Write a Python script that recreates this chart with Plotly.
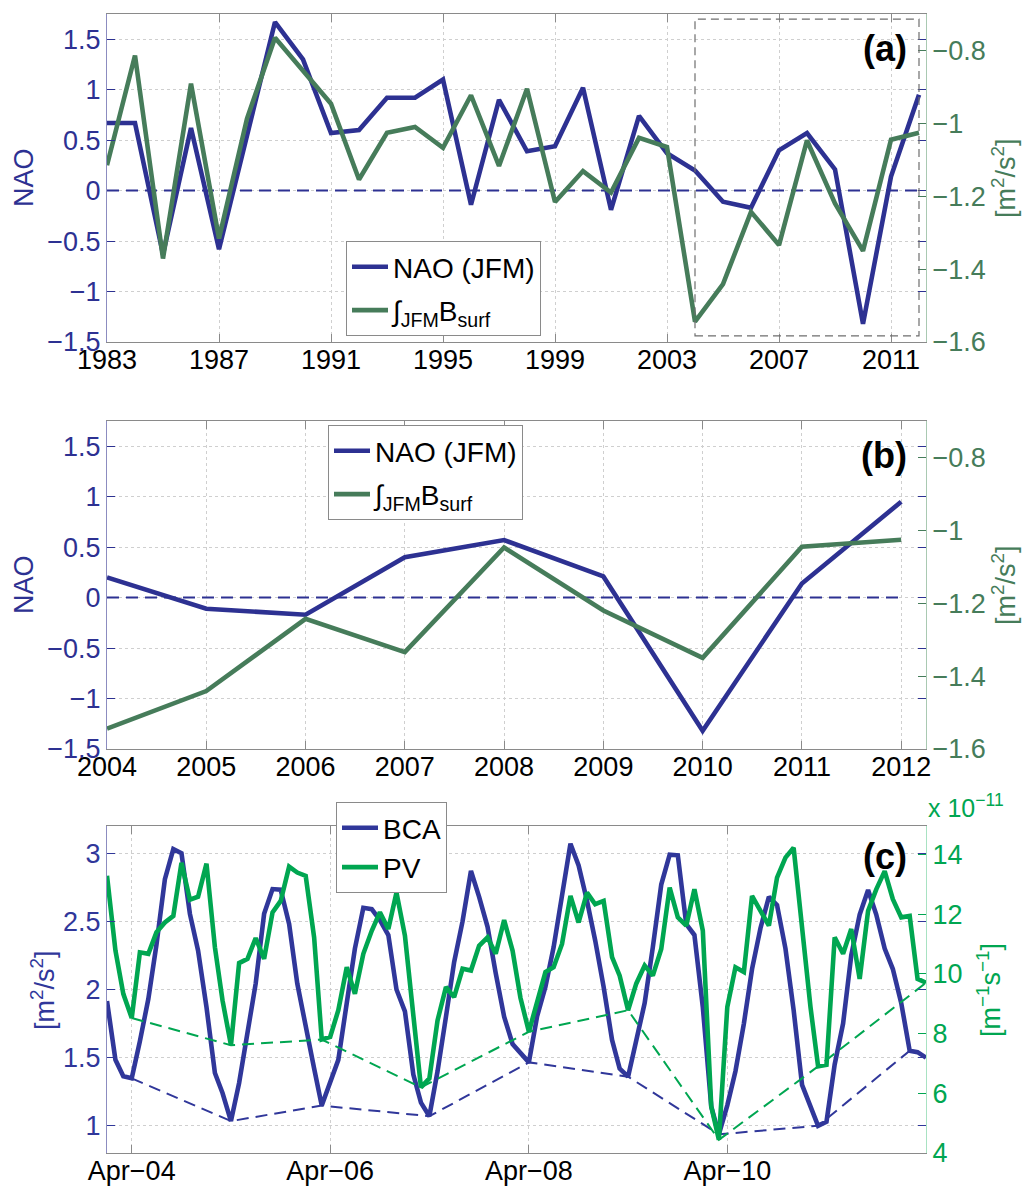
import pandas as pd
import plotly.graph_objects as go

# ---------------- data ----------------
years = list(range(1983, 2013))
nao_jfm = [0.67, 0.67, -0.63, 0.62, -0.58, 0.55, 1.67, 1.30, 0.57, 0.60,
           0.92, 0.92, 1.10, -0.14, 0.90, 0.39, 0.44, 1.02, -0.19, 0.74,
           0.37, 0.20, -0.11, -0.17, 0.40, 0.57, 0.21, -1.32, 0.14, 0.95]
bsurf_jfm = [-1.115, -0.814, -1.371, -0.891, -1.316, -0.987, -0.765, -0.855, -0.946, -1.154,
             -1.026, -1.010, -1.067, -0.923, -1.117, -0.905, -1.216, -1.131, -1.190, -1.040,
             -1.065, -1.544, -1.441, -1.243, -1.334, -1.047, -1.220, -1.350, -1.045, -1.026]
zoom_start_year = 2004

# monthly series, Jan 2004 - Apr 2012
months = pd.date_range("2004-01-01", periods=100, freq="MS")
bca = [1.915, 1.484, 1.363, 1.348, 1.62, 1.93, 2.33, 2.81, 3.03, 3.00,
       2.555, 2.287, 1.87, 1.387, 1.24, 1.034, 1.314, 1.679, 2.044, 2.555,
       2.737, 2.732, 2.482, 2.044, 1.75, 1.42, 1.148, 1.32, 1.484, 1.90,
       2.30, 2.60, 2.59, 2.51, 2.40, 2.00, 1.84, 1.375, 1.17, 1.07,
       1.40, 1.80, 2.20, 2.50, 2.87, 2.68, 2.46, 2.12, 1.80, 1.60,
       1.53, 1.465, 1.80, 2.02, 2.31, 2.70, 3.07, 2.91, 2.65, 2.36,
       2.02, 1.63, 1.42, 1.36, 1.63, 1.90, 2.31, 2.77, 2.99, 2.985,
       2.48, 2.40, 1.87, 1.14, 0.937, 1.15, 1.40, 1.75, 2.15, 2.45,
       2.68, 2.62, 2.30, 1.85, 1.30, 1.15, 1.00, 1.03, 1.45, 1.75,
       2.25, 2.55, 2.73, 2.55, 2.30, 2.15, 1.90, 1.55, 1.54, 1.50]
pv_e11 = [13.28, 10.78, 9.33, 8.52, 10.72, 10.67, 11.39, 11.72, 11.94, 13.72,
          12.48, 12.58, 13.69, 10.89, 9.11, 7.61, 10.36, 10.50, 11.20, 10.50,
          12.06, 12.44, 13.59, 13.39, 13.28, 11.22, 7.80, 7.89, 8.78, 10.22,
          9.33, 10.67, 11.44, 12.06, 11.50, 12.72, 11.28, 8.60, 6.20, 6.50,
          8.44, 9.56, 9.22, 10.17, 10.11, 10.94, 11.22, 10.67, 11.80, 10.78,
          9.20, 8.06, 9.06, 10.06, 10.22, 11.00, 12.61, 11.72, 12.72, 12.33,
          12.44, 10.56, 9.94, 8.78, 9.67, 10.28, 9.94, 10.83, 12.89, 11.89,
          11.61, 12.83, 11.44, 5.56, 4.44, 8.89, 10.22, 10.06, 12.61, 12.11,
          11.61, 13.22, 13.89, 14.22, 11.56, 8.89, 6.90, 6.95, 11.22, 10.67,
          11.50, 9.83, 12.11, 12.83, 13.44, 12.50, 11.89, 11.94, 9.83, 9.70]
# months holding each spring minimum (indices into the monthly series)
bca_min_idx = [3, 15, 26, 39, 51, 63, 74, 86, 97]
pv_min_idx = [3, 15, 26, 38, 51, 63, 74, 86, 99]

nao_ticks = [-1.5, -1, -0.5, 0, 0.5, 1, 1.5]
nao_ticktext = ["\u22121.5", "\u22121", "\u22120.5", "0", "0.5", "1", "1.5"]
b_ticks = [-1.6, -1.4, -1.2, -1.0, -0.8]
b_ticktext = ["\u22121.6", "\u22121.4", "\u22121.2", "\u22121", "\u22120.8"]
year_ticks_a = list(range(1983, 2012, 4))
year_ticks_b = list(range(2004, 2013))
bca_ticks = [1, 1.5, 2, 2.5, 3]
pv_ticks = [4, 6, 8, 10, 12, 14]
date_ticks = ["2004-04-01", "2006-04-01", "2008-04-01", "2010-04-01"]
date_ticktext = ["Apr\u221204", "Apr\u221206", "Apr\u221208", "Apr\u221210"]

# ---------------- styling ----------------
W, H = 1029, 1191
FONT = "Liberation Sans"
TICK_SIZE = 27
NAVY = "#2d3192"
SAGE = "#467c5a"
BCA_BLUE = "#30379a"
PV_GREEN = "#00a651"
GRID = "#cfcfcf"
FRAME = "#8a8a8a"


def fx(px):
    return px / W


def fy(py):
    return 1 - py / H


XDOM = [fx(107), fx(926)]
DOM_A = [fy(342), fy(14)]
DOM_B = [fy(749), fy(421)]
DOM_C = [fy(1153), fy(826)]

fig = go.Figure()
dash_style = "12px,7px"

# ---- panel (a) ----
fig.add_trace(go.Scatter(x=[years[0], years[-1]], y=[0, 0], mode="lines",
                         line=dict(color=NAVY, width=2, dash=dash_style),
                         showlegend=False, xaxis="x", yaxis="y", hoverinfo="skip"))
fig.add_trace(go.Scatter(x=years, y=nao_jfm, mode="lines", name="NAO (JFM)",
                         line=dict(color=NAVY, width=4.6), xaxis="x", yaxis="y",
                         legend="legend", legendgroup="a1"))
fig.add_trace(go.Scatter(x=years, y=bsurf_jfm, mode="lines",
                         name="\u222b<sub>JFM</sub>B<sub>surf</sub>",
                         line=dict(color=SAGE, width=4.6), xaxis="x", yaxis="y2",
                         legend="legend", legendgroup="a2"))

# ---- panel (b) ----
k = years.index(zoom_start_year)
fig.add_trace(go.Scatter(x=[years[k], years[-1]], y=[0, 0], mode="lines",
                         line=dict(color=NAVY, width=2, dash=dash_style),
                         showlegend=False, xaxis="x2", yaxis="y3", hoverinfo="skip"))
fig.add_trace(go.Scatter(x=years[k:], y=nao_jfm[k:], mode="lines", name="NAO (JFM)",
                         line=dict(color=NAVY, width=4.6), xaxis="x2", yaxis="y3",
                         legend="legend2", legendgroup="b1"))
fig.add_trace(go.Scatter(x=years[k:], y=bsurf_jfm[k:], mode="lines",
                         name="\u222b<sub>JFM</sub>B<sub>surf</sub>",
                         line=dict(color=SAGE, width=4.6), xaxis="x2", yaxis="y4",
                         legend="legend2", legendgroup="b2"))

# ---- panel (c) ----
fig.add_trace(go.Scatter(x=[months[i] for i in bca_min_idx], y=[bca[i] for i in bca_min_idx],
                         mode="lines", line=dict(color=BCA_BLUE, width=2, dash=dash_style),
                         showlegend=False, xaxis="x3", yaxis="y5", hoverinfo="skip"))
fig.add_trace(go.Scatter(x=months, y=bca, mode="lines", name="BCA",
                         line=dict(color=BCA_BLUE, width=4.6), xaxis="x3", yaxis="y5",
                         legend="legend3", legendgroup="c1"))
fig.add_trace(go.Scatter(x=[months[i] for i in pv_min_idx], y=[pv_e11[i] for i in pv_min_idx],
                         mode="lines", line=dict(color=PV_GREEN, width=2, dash=dash_style),
                         showlegend=False, xaxis="x3", yaxis="y6", hoverinfo="skip"))
fig.add_trace(go.Scatter(x=months, y=pv_e11, mode="lines", name="PV",
                         line=dict(color=PV_GREEN, width=4.6), xaxis="x3", yaxis="y6",
                         legend="legend3", legendgroup="c2"))


def tfont(color):
    return dict(family=FONT, size=TICK_SIZE, color=color)


def xax(domain, anchor, rng, tickvals, ticktext=None, **kw):
    d = dict(domain=domain, anchor=anchor, range=rng, tickvals=tickvals,
             ticks="inside", ticklen=8, tickcolor=FRAME, showline=True,
             linecolor=FRAME, linewidth=1.2, mirror="ticks", showgrid=True,
             gridcolor=GRID, griddash="dot", gridwidth=1, zeroline=False,
             tickfont=tfont("black"), automargin=False, ticklabelstandoff=-7)
    if ticktext is not None:
        d["ticktext"] = ticktext
    d.update(kw)
    return d


def yleft(domain, anchor, rng, tickvals, ticktext, color):
    return dict(domain=domain, anchor=anchor, range=rng, tickvals=tickvals,
                ticktext=ticktext, ticks="inside", ticklen=8, tickcolor=color,
                showline=True, linecolor="#8c8cc0", linewidth=1.2, mirror="ticks",
                showgrid=True, gridcolor=GRID, griddash="dot", gridwidth=1,
                zeroline=False, tickfont=tfont(color), automargin=False)


def yright(overlay, anchor, rng, tickvals, ticktext, color, linecolor):
    return dict(overlaying=overlay, anchor=anchor, side="right", range=rng,
                tickvals=tickvals, ticktext=ticktext, ticks="inside", ticklen=8,
                tickcolor=color, showline=True, linecolor=linecolor, linewidth=1.2,
                showgrid=False, zeroline=False, tickfont=tfont(color),
                automargin=False)


def legend_style(gap):
    return dict(font=dict(family=FONT, size=28, color="black"),
                bgcolor="white", bordercolor=FRAME, borderwidth=1,
                xanchor="left", yanchor="top", tracegroupgap=gap,
                itemwidth=36)


fig.update_layout(
    template="none",
    width=W, height=H,
    margin=dict(l=0, r=0, t=0, b=0, autoexpand=False),
    paper_bgcolor="white", plot_bgcolor="white",
    font=dict(family=FONT, size=TICK_SIZE, color="black"),
    xaxis=xax(XDOM, "y", [1983, 2012.25], year_ticks_a),
    yaxis=yleft(DOM_A, "x", [-1.5, 1.75], nao_ticks, nao_ticktext, NAVY),
    yaxis2=yright("y", "x", [-1.6, -0.7], b_ticks, b_ticktext, SAGE, "#a9c9b2"),
    xaxis2=xax(XDOM, "y3", [2004, 2012.25], year_ticks_b),
    yaxis3=yleft(DOM_B, "x2", [-1.5, 1.75], nao_ticks, nao_ticktext, NAVY),
    yaxis4=yright("y3", "x2", [-1.6, -0.7], b_ticks, b_ticktext, SAGE, "#a9c9b2"),
    xaxis3=xax(XDOM, "y5", [months[0], months[-1]], date_ticks, date_ticktext, type="date"),
    yaxis5=yleft(DOM_C, "x3", [0.8, 3.2], bca_ticks, ["1", "1.5", "2", "2.5", "3"], BCA_BLUE),
    yaxis6=yright("y5", "x3", [4, 14.95], pv_ticks, [str(v) for v in pv_ticks],
                  PV_GREEN, "#a8e2c2"),
    legend=dict(x=fx(346), y=fy(241), **legend_style(4)),
    legend2=dict(x=fx(328), y=fy(425), **legend_style(4)),
    legend3=dict(x=fx(336), y=fy(802), **legend_style(0)),
    showlegend=True,
)

# rectangle marking the 2004-2012 window shown in panel (b)
fig.add_shape(type="rect", xref="x", yref="y", x0=zoom_start_year, x1=years[-1],
              y0=-1.44, y1=1.70, line=dict(color="#6e6e6e", width=1.2, dash="8px,5px"),
              fillcolor="rgba(0,0,0,0)")

ann = []


def label(text, px, py, color, size=27, angle=0, xanchor="center", yanchor="middle", bold=False):
    ann.append(dict(text=f"<b>{text}</b>" if bold else text, x=fx(px), y=fy(py),
                    xref="paper", yref="paper", showarrow=False, textangle=angle,
                    xanchor=xanchor, yanchor=yanchor,
                    font=dict(family=FONT, size=size, color=color)))


label("NAO", 24, 178, NAVY, angle=-90)
label("[m<sup>2</sup>/s<sup>2</sup>]", 1004, 178, SAGE, angle=-90)
label("NAO", 24, 585, NAVY, angle=-90)
label("[m<sup>2</sup>/s<sup>2</sup>]", 1004, 585, SAGE, angle=-90)
label("[m<sup>2</sup>/s<sup>2</sup>]", 43, 990, BCA_BLUE, angle=-90)
label("[m<sup>\u22121</sup>s<sup>\u22121</sup>]", 989, 990, PV_GREEN, angle=-90)
label("x 10<sup>\u221211</sup>", 926, 806, PV_GREEN, size=25, xanchor="left")
label("(a)", 909, 48, "black", size=36, xanchor="right", bold=True)
label("(b)", 909, 455, "black", size=36, xanchor="right", bold=True)
label("(c)", 909, 856, "black", size=36, xanchor="right", bold=True)
fig.update_layout(annotations=ann)

fig.write_html("out.html")
